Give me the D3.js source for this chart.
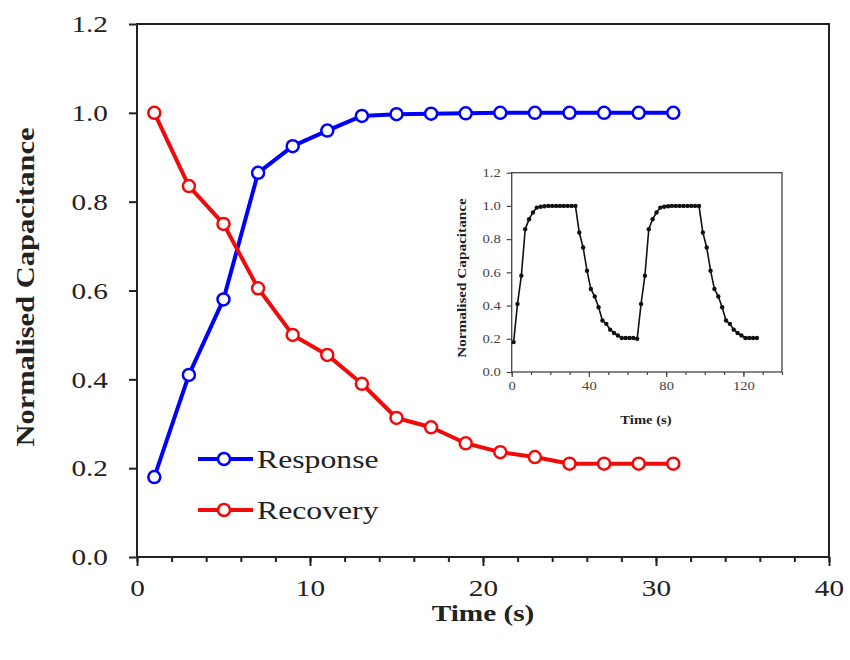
<!DOCTYPE html>
<html><head><meta charset="utf-8">
<script src="https://cdn.jsdelivr.net/npm/d3@7"></script>
<style>html,body{margin:0;padding:0;background:#fff;} svg{display:block;}</style>
</head><body><svg id="chart" width="850" height="660"></svg>
<script>
// ---------- data (main chart) ----------
const time = [1,3,5,7,9,11,13,15,17,19,21,23,25,27,29,31];
const response = [0.18,0.41,0.58,0.865,0.925,0.96,0.993,0.997,0.998,0.999,1.0,1.0,1.0,1.0,1.0,1.0];
const recovery = [1.0,0.835,0.75,0.605,0.50,0.455,0.39,0.313,0.292,0.256,0.236,0.225,0.21,0.21,0.21,0.21];
const seriesNames = ["Response","Recovery"];
const xTicks = [0,10,20,30,40];
const xMinorTicks = [0,2,4,6,8,10,12,14,16,18,20,22,24,26,28,30,32,34,36,38,40];
const yTicks = [0,0.2,0.4,0.6,0.8,1.0,1.2];

// ---------- data (inset) ----------
const insetTime = [1,3,5,7,9,11,13,15,17,19,21,23,25,27,29,31,
  33,35,37,39,41,43,45,47,49,51,53,55,57,59,61,63,
  65,67,69,71,73,75,77,79,81,83,85,87,89,91,93,95,
  97,99,101,103,105,107,109,111,113,115,117,119,121,123,125,127];
const insetValues = [0.18,0.41,0.58,0.86,0.92,0.96,0.99,0.995,0.998,1.0,1.0,1.0,1.0,1.0,1.0,1.0,
  1.0,0.84,0.75,0.61,0.50,0.455,0.39,0.31,0.29,0.255,0.235,0.22,0.205,0.205,0.205,0.205,
  0.2,0.41,0.58,0.86,0.92,0.96,0.99,0.995,0.998,1.0,1.0,1.0,1.0,1.0,1.0,1.0,
  1.0,0.84,0.75,0.61,0.50,0.455,0.39,0.31,0.29,0.255,0.235,0.22,0.205,0.205,0.205,0.205];
const insetXTicks = [0,40,80,120];
const insetXMinorTicks = [0,10,20,30,40,50,60,70,80,90,100,110,120,130,140];
const insetYTicks = [0,0.2,0.4,0.6,0.8,1.0,1.2];

// ---------- styling ----------
const FONT = "'Liberation Serif','Times New Roman',Times,serif";
const SX = 1.22;               // horizontal stretch of the original's type
const INK = "#222";
const BLUE = "#0000ff", RED = "#f00a0a";

const svg = d3.select("#chart");

function stretch(sel){
  sel.each(function(){
    const t = d3.select(this);
    const tx = +t.attr("x") || 0;
    t.attr("transform", `translate(${tx},0) scale(${SX},1) translate(${-tx},0)`);
  });
}
function label(g, txt, x0, y0, size, weight, rotate, anchor){
  const gg = g.append("g").attr("transform", `translate(${x0},${y0}) rotate(${rotate||0}) scale(${SX},1)`);
  gg.append("text").text(txt).attr("font-family",FONT).attr("font-size",size)
    .attr("font-weight",weight||"normal").attr("fill",INK).attr("text-anchor",anchor||"middle");
  return gg;
}

// ---------- main chart ----------
const M = {left:137, right:829, top:24, bottom:557};
const x = d3.scaleLinear().domain([0,40]).range([M.left, M.right]);
const y = d3.scaleLinear().domain([0,1.2]).range([M.bottom, M.top]);

svg.append("rect").attr("x",M.left).attr("y",M.top)
  .attr("width",M.right-M.left).attr("height",M.bottom-M.top)
  .attr("fill","none").attr("stroke",INK).attr("stroke-width",2);

const gxMinor = svg.append("g").attr("transform",`translate(0,${M.bottom})`)
  .call(d3.axisBottom(x).tickValues(xMinorTicks).tickSize(5).tickSizeOuter(0).tickFormat(""));
gxMinor.select(".domain").remove();
gxMinor.selectAll("line").attr("stroke",INK).attr("stroke-width",2);

const gx = svg.append("g").attr("transform",`translate(0,${M.bottom})`)
  .call(d3.axisBottom(x).tickValues(xTicks).tickSize(9).tickPadding(13).tickSizeOuter(0).tickFormat(d3.format("d")));
gx.select(".domain").remove();
gx.selectAll("line").attr("stroke",INK).attr("stroke-width",2);
gx.selectAll("text").attr("font-size",24).attr("font-family",FONT).attr("fill",INK).call(stretch);

const gy = svg.append("g").attr("transform",`translate(${M.left},0)`)
  .call(d3.axisLeft(y).tickValues(yTicks).tickSize(8).tickPadding(21).tickSizeOuter(0).tickFormat(d3.format(".1f")));
gy.select(".domain").remove();
gy.selectAll("line").attr("stroke",INK).attr("stroke-width",2);
gy.selectAll("text").attr("font-size",24).attr("font-family",FONT).attr("fill",INK).call(stretch);

label(svg, "Time (s)", 483, 621, 24, "bold", 0);
label(svg, "Normalised Capacitance", 34, 287, 25, "bold", -90);

const series = [
  {name: seriesNames[0], color: BLUE, pts: time.map((t,i)=>({t, v: response[i]}))},
  {name: seriesNames[1], color: RED,  pts: time.map((t,i)=>({t, v: recovery[i]}))}
];
const line = d3.line().x(d=>x(d.t)).y(d=>y(d.v));
series.forEach(s=>{
  svg.append("path").datum(s.pts).attr("d",line).attr("fill","none")
    .attr("stroke",s.color).attr("stroke-width",4).attr("stroke-linejoin","round");
  svg.append("g").selectAll("circle").data(s.pts).join("circle")
    .attr("cx",d=>x(d.t)).attr("cy",d=>y(d.v)).attr("r",6)
    .attr("fill","#fff").attr("stroke",s.color).attr("stroke-width",2.5);
});

// legend
const legend = svg.append("g");
series.forEach((s,i)=>{
  const ly = 459 + i*51;
  legend.append("line").attr("x1",198).attr("x2",253).attr("y1",ly).attr("y2",ly)
    .attr("stroke",s.color).attr("stroke-width",4);
  legend.append("circle").attr("cx",224).attr("cy",ly).attr("r",6)
    .attr("fill","#fff").attr("stroke",s.color).attr("stroke-width",2.5);
  label(legend, s.name, 257, ly+9, 26, "normal", 0, "start");
});

// ---------- inset ----------
const I = {left:511.7, right:782, top:172.7, bottom:372};
const xi = d3.scaleLinear().domain([0,140]).range([I.left, I.right]);
const yi = d3.scaleLinear().domain([0,1.2]).range([I.bottom, I.top]);
const inset = svg.append("g");
inset.append("rect").attr("x",I.left).attr("y",I.top)
  .attr("width",I.right-I.left).attr("height",I.bottom-I.top)
  .attr("fill","#fff").attr("stroke","#444").attr("stroke-width",1.3);

const gixm = inset.append("g").attr("transform",`translate(0,${I.bottom})`)
  .call(d3.axisBottom(xi).tickValues(insetXMinorTicks).tickSize(3).tickSizeOuter(0).tickFormat(""));
gixm.select(".domain").remove();
gixm.selectAll("line").attr("stroke","#444").attr("stroke-width",1.2);
const gix = inset.append("g").attr("transform",`translate(0,${I.bottom})`)
  .call(d3.axisBottom(xi).tickValues(insetXTicks).tickSize(5).tickPadding(4).tickSizeOuter(0).tickFormat(d3.format("d")));
gix.select(".domain").remove();
gix.selectAll("line").attr("stroke","#444").attr("stroke-width",1.2);
gix.selectAll("text").attr("font-size",12).attr("font-family",FONT).attr("fill","#444").call(stretch);
const giy = inset.append("g").attr("transform",`translate(${I.left},0)`)
  .call(d3.axisLeft(yi).tickValues(insetYTicks).tickSize(5).tickPadding(6).tickSizeOuter(0).tickFormat(d3.format(".1f")));
giy.select(".domain").remove();
giy.selectAll("line").attr("stroke","#444").attr("stroke-width",1.2);
giy.selectAll("text").attr("font-size",12).attr("font-family",FONT).attr("fill","#444").call(stretch);

label(inset, "Time (s)", 646, 424, 12, "bold", 0);
label(inset, "Normalised Capacitance", 466, 278, 12.5, "bold", -90);

const insetPts = insetTime.map((t,i)=>({t, v: insetValues[i]}));
inset.append("path").datum(insetPts)
  .attr("d", d3.line().x(d=>xi(d.t)).y(d=>yi(d.v)))
  .attr("fill","none").attr("stroke","#111").attr("stroke-width",1.6);
inset.append("g").selectAll("circle").data(insetPts).join("circle")
  .attr("cx",d=>xi(d.t)).attr("cy",d=>yi(d.v)).attr("r",2.2).attr("fill","#111");
</script>
</body></html>
